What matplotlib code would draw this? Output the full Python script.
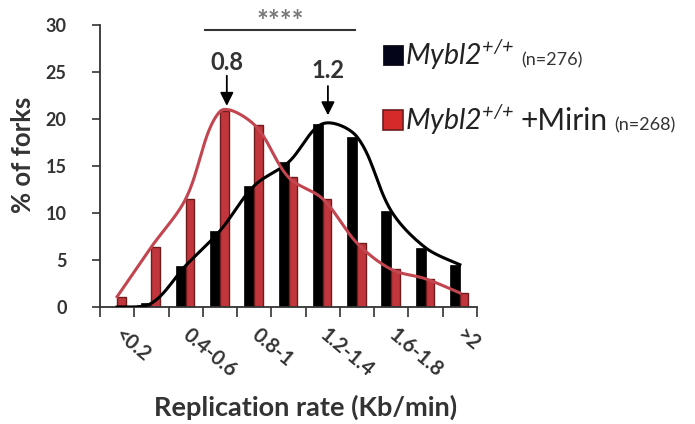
import numpy as np
import matplotlib
matplotlib.use("Agg")
import matplotlib.pyplot as plt
from matplotlib.patches import Rectangle

categories = ["<0.2", "0.2-0.4", "0.4-0.6", "0.6-0.8", "0.8-1", "1-1.2",
              "1.2-1.4", "1.4-1.6", "1.6-1.8", "1.8-2", ">2"]
shown_labels = ["<0.2", "", "0.4-0.6", "", "0.8-1", "", "1.2-1.4", "", "1.6-1.8", "", ">2"]
mybl2 = [0.0, 0.4, 4.4, 8.1, 12.9, 15.4, 19.5, 18.1, 10.2, 6.3, 4.5]
mirin = [1.1, 6.4, 11.5, 20.8, 19.4, 13.8, 11.5, 6.8, 4.0, 3.0, 1.5]
yticks = [0, 5, 10, 15, 20, 25, 30]

plt.rcParams['font.family'] = ['Lato', 'DejaVu Sans']
plt.rcParams['mathtext.fontset'] = 'custom'
plt.rcParams['mathtext.it'] = 'Lato:italic'
plt.rcParams['mathtext.rm'] = 'Lato:italic'
plt.rcParams['mathtext.bf'] = 'Lato:bold'

RED = '#c0363c'
RED_EDGE = '#6e1c1c'
RED_LINE = '#c2454f'
TXT = '#333333'

def smooth(x, y, sx=34.3, sy=9.4, n=30):
    """Excel-like smoothed line: Bezier segments with distance-weighted handles (screen space)."""
    P = np.column_stack([np.asarray(x, float) * sx, np.asarray(y, float) * sy])
    N = len(P)
    cout = np.zeros_like(P); cin = np.zeros_like(P)
    for i in range(N):
        pp = P[max(i - 1, 0)]; pn = P[min(i + 1, N - 1)]
        T = pn - pp
        d0 = np.linalg.norm(P[i] - pp); d1 = np.linalg.norm(pn - P[i])
        ds = d0 + d1 if d0 + d1 > 0 else 1
        if i == 0 or i == N - 1:
            d0 = d1 = ds / 2
        cout[i] = P[i] + T * (d1 / ds) / 3.0
        cin[i] = P[i] - T * (d0 / ds) / 3.0
    out = []
    t = np.linspace(0, 1, n)[:, None]
    for i in range(N - 1):
        p1, c1, c2, p2 = P[i], cout[i], cin[i + 1], P[i + 1]
        seg = ((1 - t) ** 3) * p1 + 3 * ((1 - t) ** 2) * t * c1 + 3 * (1 - t) * t ** 2 * c2 + t ** 3 * p2
        out.append(seg if i == 0 else seg[1:])
    s = np.vstack(out)
    return s[:, 0] / sx, s[:, 1] / sy

W, H = 695, 424
fig = plt.figure(figsize=(W / 100, H / 100), dpi=100)
ax = fig.add_axes([100 / W, (H - 307) / H, 377 / W, 282 / H])

x = np.arange(len(categories))
ax.bar(x - 0.145, mybl2, width=0.29, color='black', edgecolor='black', linewidth=0.5, zorder=2)
ax.bar(x + 0.125, mirin, width=0.25, color=RED, edgecolor=RED_EDGE, linewidth=1.0, zorder=2)

bx, by = smooth(x, mybl2)
rx, ry = smooth(x, mirin)
ax.plot(bx, by, color='black', lw=2.2, zorder=3)
ax.plot(rx, ry, color=RED_LINE, lw=2.2, zorder=3)

ax.set_xlim(-0.5, len(categories) - 0.5)
ax.set_ylim(0, 30)
ax.set_yticks(yticks)
ax.set_yticklabels([str(v) for v in yticks], fontsize=13, fontweight='bold', color=TXT)
ax.set_xticks(np.arange(len(categories) + 1) - 0.5)
ax.set_xticklabels([])
ax.tick_params(axis='y', length=6, width=1.2, pad=18, direction='out', color=TXT)
ax.tick_params(axis='x', length=7, width=1.2, direction='out', color=TXT)
for s in ['top', 'right']:
    ax.spines[s].set_visible(False)
for s in ['left', 'bottom']:
    ax.spines[s].set_linewidth(1.3)
    ax.spines[s].set_color(TXT)

for i, lab in enumerate(shown_labels):
    if lab:
        ax.text(i + 0.0, -0.09, lab, transform=ax.get_xaxis_transform(), rotation=-40,
                rotation_mode='anchor', ha='left', va='center', fontsize=14.5,
                fontweight='bold', color=TXT)

fig.text(306 / W, 1 - 407 / H, 'Replication rate (Kb/min)', ha='center', va='center',
         fontsize=19.5, fontweight='bold', color=TXT)
fig.text(23 / W, 1 - 155 / H, '% of forks', ha='center', va='center', rotation=90,
         fontsize=18.5, fontweight='bold', color=TXT)

# significance bar
ax.plot([2.56, 6.93], [29.5, 29.5], color=TXT, lw=1.5, clip_on=False)
ax.text(4.75, 30.3, '****', ha='center', va='center', fontsize=20, fontweight='bold', color='#777777')

# peak arrows
for xp, label, ytxt, y0, y1 in [(3.2, '0.8', 26.0, 24.9, 21.1), (6.15, '1.2', 25.2, 23.8, 20.1)]:
    ax.text(xp, ytxt, label, ha='center', va='center', fontsize=17, fontweight='bold', color=TXT)
    ax.annotate('', xy=(xp, y1), xytext=(xp, y0),
                arrowprops=dict(arrowstyle='-|>,head_width=0.4,head_length=0.8', color='black', lw=1.3))

# legend
fig.patches.append(Rectangle((383 / W, 1 - 65 / H), 20 / W, 20 / H, transform=fig.transFigure,
                             facecolor='#05051a', edgecolor='black', lw=0.5))
fig.patches.append(Rectangle((383 / W, 1 - 130 / H), 20 / W, 20 / H, transform=fig.transFigure,
                             facecolor='#d42a2a', edgecolor=RED_EDGE, lw=1.2))
sup = r'$\mathit{Mybl2}^{{+}/{+}}$'
fig.text(405 / W, 1 - 65 / H, sup, ha='left', va='baseline', fontsize=20.5, color='#222222')
fig.text(521 / W, 1 - 65 / H, '(n=276)', ha='left', va='baseline', fontsize=13, color=TXT)
fig.text(405 / W, 1 - 130 / H, sup, ha='left', va='baseline', fontsize=20.5, color='#222222')
fig.text(520 / W, 1 - 130 / H, '+Mirin', ha='left', va='baseline', fontsize=21.5, color='#222222')
fig.text(614 / W, 1 - 130 / H, '(n=268)', ha='left', va='baseline', fontsize=13, color=TXT)

fig.savefig('out.png', dpi=100)
